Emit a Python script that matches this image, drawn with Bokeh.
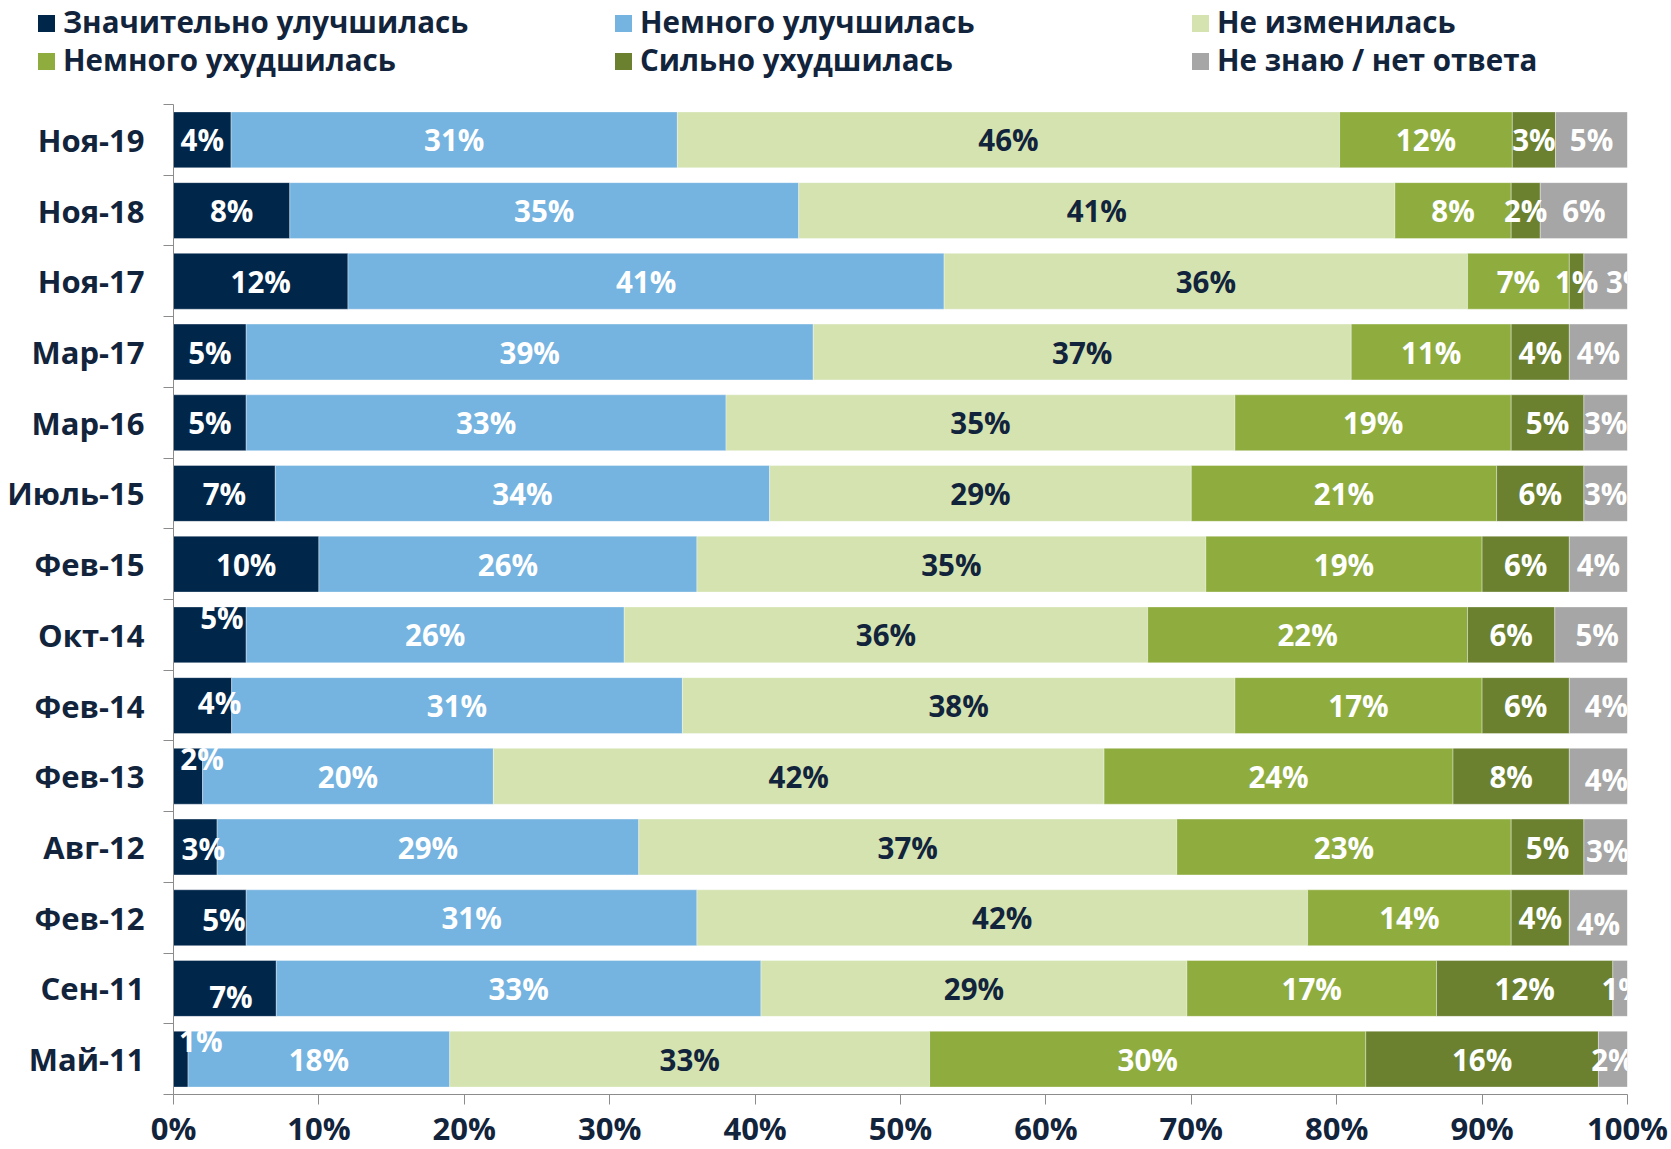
import numpy as np
import pandas as pd
from bokeh.plotting import figure
from bokeh.layouts import column
from bokeh.models import (ColumnDataSource, Range1d, FixedTicker, Div, PrintfTickFormatter)
from bokeh.core.properties import value
from bokeh.embed import file_html
from bokeh.resources import INLINE

# ---------------- data ----------------
periods = ["Ноя-19", "Ноя-18", "Ноя-17", "Мар-17", "Мар-16", "Июль-15", "Фев-15",
           "Окт-14", "Фев-14", "Фев-13", "Авг-12", "Фев-12", "Сен-11", "Май-11"]

series_names = ["Значительно улучшилась", "Немного улучшилась", "Не изменилась",
                "Немного ухудшилась", "Сильно ухудшилась", "Не знаю / нет ответа"]

much_better = [4, 8, 12, 5, 5, 7, 10, 5, 4, 2, 3, 5, 7, 1]
bit_better = [31, 35, 41, 39, 33, 34, 26, 26, 31, 20, 29, 31, 33, 18]
no_change = [46, 41, 36, 37, 35, 29, 35, 36, 38, 42, 37, 42, 29, 33]
bit_worse = [12, 8, 7, 11, 19, 21, 19, 22, 17, 24, 23, 14, 17, 30]
much_worse = [3, 2, 1, 4, 5, 6, 6, 6, 6, 8, 5, 4, 12, 16]
dont_know = [5, 6, 3, 4, 3, 3, 4, 5, 4, 4, 3, 4, 1, 2]

x_ticks = [0, 10, 20, 30, 40, 50, 60, 70, 80, 90, 100]

# ---------------- styles ----------------
colors = ["#00264a", "#75b3e0", "#d4e3b0", "#8fad3f", "#6b812f", "#a6a6a6"]
label_colors = ["white", "white", "#12243c", "white", "white", "white"]
TEXT = "#12243c"
AXIS = "#8c8c8c"
FONT = "Open Sans"

TOTAL_W = 1671
TOP_H = 104                 # legend band above the plot frame
FRAME_W, FRAME_H = 1454, 990
BORDER_L = 173

# manual label nudges (screen px) as placed in the original
label_nudge = {
    ("Окт-14", 0): (12, -17), ("Фев-14", 0): (17, -3), ("Фев-13", 0): (14, -18),
    ("Авг-12", 0): (8, 1), ("Фев-12", 0): (14, 2), ("Сен-11", 0): (6, 8),
    ("Май-11", 0): (20, -19),
    ("Ноя-17", 5): (22, 0), ("Окт-14", 5): (6, 0), ("Фев-14", 5): (8, 0),
    ("Фев-13", 5): (8, 3), ("Авг-12", 5): (2, 3), ("Фев-12", 5): (0, 6),
    ("Сен-11", 5): (3, 0),
}

df = pd.DataFrame({
    series_names[0]: much_better, series_names[1]: bit_better, series_names[2]: no_change,
    series_names[3]: bit_worse, series_names[4]: much_worse, series_names[5]: dont_know,
}, index=periods)
share = df.div(df.sum(axis=1), axis=0) * 100
right = share.cumsum(axis=1)
left = right - share
ypos = (np.arange(len(periods))[::-1] + 0.5).tolist()

# ---------------- main chart ----------------
p = figure(frame_width=FRAME_W, frame_height=FRAME_H,
           x_range=Range1d(0, 100), y_range=Range1d(0, len(periods)),
           output_backend="svg", toolbar_location=None,
           min_border_left=BORDER_L, min_border_top=0, min_border_right=44,
           min_border_bottom=55)
p.xgrid.visible = False
p.ygrid.visible = False
p.outline_line_color = None
p.background_fill_color = "white"

for i, name in enumerate(series_names):
    src = ColumnDataSource(dict(y=ypos, left=left[name].tolist(), right=right[name].tolist()))
    p.hbar(y="y", left="left", right="right", height=0.79, source=src,
           fill_color=colors[i], line_color="white", line_alpha=0.35, line_width=1)

lx, ly, lt, lc, dx, dy = [], [], [], [], [], []
for i, name in enumerate(series_names):
    for j, per in enumerate(periods):
        lx.append(float(left[name].iloc[j] + share[name].iloc[j] / 2))
        ly.append(ypos[j])
        lt.append(f"{df[name].iloc[j]}%")
        lc.append(label_colors[i])
        ox, oy = label_nudge.get((per, i), (0, 0))
        dx.append(ox)
        dy.append(oy)
lsrc = ColumnDataSource(dict(x=lx, y=ly, text=lt, color=lc, dx=dx, dy=dy))
p.text(x="x", y="y", text="text", source=lsrc, text_color="color", x_offset="dx", y_offset="dy",
       text_align="center", text_baseline="middle", text_font=value(FONT),
       text_font_size="29.5px", text_font_style="bold")

# x axis
xa = p.xaxis[0]
xa.ticker = FixedTicker(ticks=x_ticks)
xa.formatter = PrintfTickFormatter(format="%d%%")
xa.axis_line_color = AXIS
xa.major_tick_line_color = AXIS
xa.major_tick_out = 10
xa.major_tick_in = 0
xa.minor_tick_out = 0
xa.major_label_standoff = 2
xa.major_label_text_font = FONT
xa.major_label_text_font_size = "31px"
xa.major_label_text_font_style = "bold"
xa.major_label_text_color = TEXT

# y axis: labels at category centers, tick marks at category boundaries
ya = p.yaxis[0]
ya.ticker = FixedTicker(ticks=ypos, minor_ticks=list(range(len(periods) + 1)))
ya.major_label_overrides = {y: lab for y, lab in zip(ypos, periods)}
ya.axis_line_color = AXIS
ya.major_tick_out = 0
ya.major_tick_in = 0
ya.minor_tick_line_color = AXIS
ya.minor_tick_out = 10
ya.minor_tick_in = 0
ya.major_label_standoff = 19
ya.major_label_text_font = FONT
ya.major_label_text_font_size = "31px"
ya.major_label_text_font_style = "bold"
ya.major_label_text_color = TEXT

# ---------------- legend band (3 columns x 2 rows) ----------------
col_x = [38, 615, 1192]
row_y = [23, 61]
parts = []
for k, (name, c) in enumerate(zip(series_names, colors)):
    x0 = col_x[k % 3]
    yc = row_y[k // 3]
    parts.append(
        f'<div style="position:absolute;left:{x0}px;top:{yc - 8.5}px;width:17px;height:17px;'
        f'background:{c};"></div>'
        f'<div style="position:absolute;left:{x0 + 25}px;top:{yc - 21}px;height:40px;'
        f'line-height:40px;white-space:nowrap;">{name}</div>'
    )
legend_html = (
    f'<div style="position:relative;width:{TOTAL_W}px;height:{TOP_H}px;'
    f"font-family:'{FONT}';font-weight:bold;font-size:29.5px;color:{TEXT};\">"
    + "".join(parts) + "</div>"
)
legend_div = Div(text=legend_html, width=TOTAL_W, height=TOP_H, margin=0)

layout = column(legend_div, p, spacing=0)
open("out.html", "w").write(file_html(layout, INLINE))
